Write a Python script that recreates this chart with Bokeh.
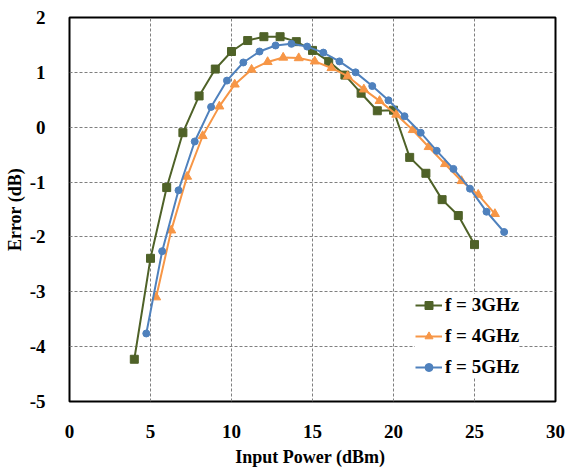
from bokeh.plotting import figure
from bokeh.models import Legend, LegendItem, FixedTicker
from bokeh.embed import file_html
from bokeh.resources import INLINE

# f = 3GHz
x3 = [4, 5, 6, 7, 8, 9, 10, 11, 12, 13, 14, 15, 16, 17, 18, 19, 20, 21, 22, 23, 24, 25]
y3 = [-4.23, -2.39, -1.1, -0.1, 0.57, 1.06, 1.38, 1.58, 1.65, 1.65, 1.56, 1.40, 1.2, 0.95,
      0.62, 0.3, 0.31, -0.55, -0.84, -1.32, -1.61, -2.14]
# f = 4GHz
x4 = [5.35, 6.28, 7.26, 8.22, 9.25, 10.2, 11.24, 12.23, 13.19, 14.15, 15.14, 16.17, 17.17,
      18.17, 19.14, 20.17, 21.19, 22.17, 23.18, 24.2, 25.23, 26.26]
y4 = [-3.1, -1.88, -0.9, -0.16, 0.38, 0.78, 1.05, 1.19, 1.27, 1.26, 1.2, 1.08, 0.93,
      0.69, 0.48, 0.23, -0.05, -0.36, -0.67, -0.98, -1.23, -1.58]
# f = 5GHz
x5 = [4.74, 5.72, 6.73, 7.73, 8.74, 9.72, 10.73, 11.73, 12.72, 13.7, 14.67, 15.67, 16.66,
      17.66, 18.69, 19.69, 20.68, 21.68, 22.67, 23.7, 24.72, 25.74, 26.83]
y5 = [-3.76, -2.26, -1.15, -0.26, 0.37, 0.85, 1.18, 1.38, 1.49, 1.52, 1.47, 1.36, 1.2,
      1.0, 0.75, 0.49, 0.2, -0.1, -0.43, -0.76, -1.12, -1.54, -1.91]

x_ticks = [0, 5, 10, 15, 20, 25, 30]
y_ticks = [-5, -4, -3, -2, -1, 0, 1, 2]
y_tick_labels = ["-5", "-4", "-3", "-2", "-1", "0", "1", "2"]
labels = ["f = 3GHz", "f = 4GHz", "f = 5GHz"]

FONT = "Liberation Serif"

p = figure(width=567, height=469, output_backend="svg", toolbar_location=None,
           x_range=(0, 30), y_range=(-5, 2))
p.min_border_left = 69
p.min_border_right = 12
p.min_border_top = 17
p.min_border_bottom = 66
p.background_fill_color = "white"
p.border_fill_color = "white"
p.outline_line_color = "black"
p.outline_line_width = 2

for ax in (p.xaxis[0], p.yaxis[0]):
    ax.axis_line_color = None
    ax.major_tick_line_color = None
    ax.minor_tick_line_color = None
    ax.major_label_text_font = FONT
    ax.major_label_text_font_style = "bold"
    ax.major_label_text_font_size = "19px"
    ax.major_label_text_color = "black"
    ax.axis_label_text_font = FONT
    ax.axis_label_text_font_style = "bold"
    ax.axis_label_text_font_size = "18px"
    ax.axis_label_text_color = "black"

p.xaxis.ticker = FixedTicker(ticks=x_ticks)
p.yaxis.ticker = FixedTicker(ticks=y_ticks)
p.yaxis.major_label_overrides = {t: s for t, s in zip(y_ticks, y_tick_labels)}
p.xaxis.axis_label = "Input  Power (dBm)"
p.yaxis.axis_label = "Error (dB)"
p.xaxis.major_label_standoff = 17
p.yaxis.major_label_standoff = 18
p.xaxis.axis_label_standoff = 6
p.yaxis.axis_label_standoff = 2

p.xgrid.ticker = FixedTicker(ticks=[5, 10, 15, 20, 25])
p.ygrid.ticker = FixedTicker(ticks=[-4, -3, -2, -1, 0, 1])
for g in (p.xgrid[0], p.ygrid[0]):
    g.grid_line_color = "#7f7f7f"
    g.grid_line_dash = "3 2"
    g.grid_line_width = 1

green = "#4F6228"
orange = "#F79646"
blue = "#4F81BD"

l3 = p.line(x3, y3, line_color=green, line_width=2)
m3 = p.scatter(x3, y3, marker="square", size=8, fill_color=green, line_color=green)
l4 = p.line(x4, y4, line_color=orange, line_width=2)
m4 = p.scatter(x4, y4, marker="triangle", size=9, fill_color=orange, line_color=orange)
l5 = p.line(x5, y5, line_color=blue, line_width=2)
m5 = p.scatter(x5, y5, marker="circle", size=7, fill_color=blue, line_color=blue)

legend = Legend(items=[
    LegendItem(label=labels[0], renderers=[l3, m3]),
    LegendItem(label=labels[1], renderers=[l4, m4]),
    LegendItem(label=labels[2], renderers=[l5, m5]),
], location=(346, 23))
legend.label_text_font = FONT
legend.label_text_font_style = "bold"
legend.label_text_font_size = "19px"
legend.label_text_color = "black"
legend.glyph_width = 27
legend.glyph_height = 20
legend.label_standoff = 3
legend.spacing = 9
legend.padding = 6
legend.margin = 0
legend.border_line_color = None
legend.background_fill_color = "white"
legend.background_fill_alpha = 1
p.add_layout(legend, "center")

open("out.html", "w").write(file_html(p, INLINE))
